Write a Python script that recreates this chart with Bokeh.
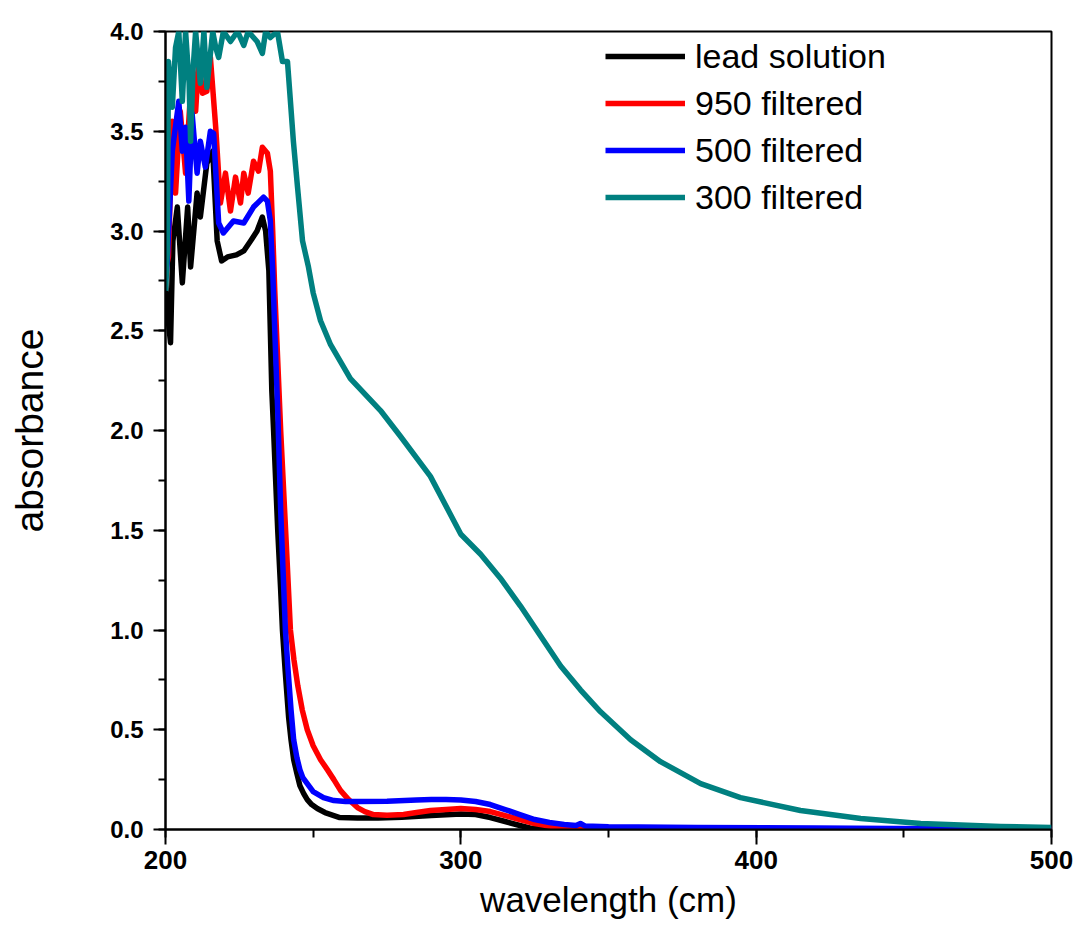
from bokeh.plotting import figure
from bokeh.models import Range1d, SingleIntervalTicker, Legend, LegendItem, NumeralTickFormatter
from bokeh.embed import file_html
from bokeh.resources import INLINE

# ---- data ----
lead_x = [200, 200.6, 201.7, 202.5, 204, 205.7, 207.5, 208.5, 210.7, 211.8, 214, 216, 217.5,
          219, 221, 224, 226.5, 228.8, 231, 232.8, 233.9, 235, 235.5, 236, 236.6, 237.3, 238,
          239, 239.6, 240.5, 241.7, 242.5, 243.4, 244.5, 245.5, 246.8, 248, 249.5, 251.4,
          254, 259, 265, 272, 280, 290, 300, 305, 310, 315, 320, 324, 330, 350, 400, 450, 500]
lead_y = [2.75, 2.6, 2.44, 2.95, 3.12, 2.74, 3.12, 2.82, 3.19, 3.07, 3.34, 3.40, 2.95,
          2.85, 2.87, 2.88, 2.9, 2.95, 3.0, 3.07, 3.0, 2.8, 2.5, 2.2, 2.0, 1.75, 1.5,
          1.2, 1.0, 0.8, 0.56, 0.45, 0.35, 0.28, 0.22, 0.18, 0.15, 0.125, 0.105,
          0.085, 0.06, 0.058, 0.058, 0.062, 0.07, 0.078, 0.075, 0.06, 0.04, 0.02, 0.006, 0.002, 0.0, 0.0, 0.0, 0.0]

f950_x = [200, 201, 202.3, 203.4, 205, 206.8, 209, 210.2, 211.3, 212.5, 214, 215.2, 217,
          218.6, 220.3, 222, 223.7, 225.4, 226.5, 228, 229.8, 231.5, 232.8, 234.5, 235.5,
          236.3, 237, 238, 239, 240, 241, 242.3, 243.5, 244.8, 246.3, 248, 250, 252.5, 254.8,
          257, 259.3, 262, 265, 267.5, 270.4, 275, 280.6, 285, 289.7, 295, 300, 305, 310,
          315, 320, 325, 330, 335, 339, 350, 400, 450, 500]
f950_y = [2.8, 2.87, 3.55, 3.19, 3.6, 3.29, 3.82, 3.6, 3.87, 3.69, 3.70, 3.87, 3.52,
          3.14, 3.29, 3.10, 3.27, 3.14, 3.29, 3.19, 3.35, 3.30, 3.42, 3.39, 3.3,
          3.0, 2.7, 2.35, 2.0, 1.7, 1.4, 1.0, 0.85, 0.72, 0.6, 0.5, 0.42, 0.35, 0.3,
          0.25, 0.195, 0.15, 0.11, 0.09, 0.075, 0.072, 0.075, 0.085, 0.095, 0.10, 0.105, 0.10, 0.09,
          0.07, 0.05, 0.03, 0.017, 0.008, 0.004, 0.002, 0.0, 0.0, 0.0]

f500_x = [200, 200.6, 202.3, 204.5, 205.7, 206.8, 207.9, 209, 210.7, 211.8, 213.5, 215.2, 216.3,
          218, 219.6, 223, 226.5, 229.8, 233.2, 234.5, 235.5, 236.3, 237, 238, 239, 240.6,
          241.5, 242.5, 243.4, 244.5, 245.5, 246.5, 248, 250, 253.5, 257, 261, 265, 275,
          285, 290, 295, 300, 305, 310, 315, 320, 325, 330, 335, 339, 340.5, 342, 350, 380, 420, 460, 500]
f500_y = [2.75, 2.85, 3.40, 3.65, 3.4, 3.52, 3.15, 3.59, 3.29, 3.45, 3.32, 3.5, 3.49,
          3.04, 2.99, 3.05, 3.04, 3.12, 3.17, 3.15, 3.05, 2.8, 2.5, 2.1, 1.6, 1.0,
          0.8, 0.6, 0.45, 0.36, 0.3, 0.26, 0.23, 0.19, 0.16, 0.145, 0.14, 0.14, 0.142,
          0.148, 0.15, 0.15, 0.148, 0.14, 0.125, 0.10, 0.075, 0.05, 0.035, 0.025, 0.02, 0.03, 0.018, 0.014, 0.01, 0.007, 0.004, 0.002]

f300_x = [200, 200.6, 201, 202.3, 203.4, 204.5, 205.7, 206.8, 208, 208.5, 209.3, 210.2, 211.8,
          213, 214, 216, 217, 218, 219.6, 222, 224.4, 226.5, 228, 231, 232.8, 233.9, 235.5,
          237.9, 239.6, 241.3, 242.3, 243.3, 244.7, 246.4, 248.4, 250, 252.5, 255.9, 262.6,
          272.8, 279.6, 289.7, 300, 306.7, 313.4, 320.2, 327, 333.8, 340.5, 347.3, 357.5,
          367.6, 381.2, 394.7, 415, 435.4, 455.7, 482.8, 500]
f300_y = [2.7, 2.89, 3.85, 3.62, 3.92, 4.0, 3.65, 4.0, 3.74, 3.45, 3.8, 4.0, 3.74,
          4.0, 3.72, 4.0, 3.92, 3.87, 4.0, 3.95, 4.0, 3.93, 4.0, 3.95, 3.89, 4.0, 3.97,
          4.0, 3.85, 3.85, 3.65, 3.45, 3.22, 2.95, 2.82, 2.69, 2.55, 2.43, 2.26,
          2.10, 1.97, 1.77, 1.48, 1.38, 1.26, 1.12, 0.97, 0.82, 0.70, 0.59, 0.45,
          0.34, 0.23, 0.16, 0.095, 0.055, 0.03, 0.015, 0.01]

series_names = ["lead solution", "950 filtered", "500 filtered", "300 filtered"]
series_colors = ["#000000", "#ff0000", "#0000ff", "#008080"]

xs = [lead_x, f950_x, f500_x, f300_x]
ys = [lead_y, f950_y, f500_y, f300_y]

p = figure(width=1077, height=932, output_backend="svg", toolbar_location=None,
           x_range=Range1d(200, 500), y_range=Range1d(0, 4.0),
           min_border_left=165, min_border_right=26, min_border_top=31, min_border_bottom=103)
p.background_fill_color = "white"
p.border_fill_color = "white"
p.grid.visible = False
p.outline_line_color = "black"
p.outline_line_width = 2

items = []
for x, y, name, c in zip(xs, ys, series_names, series_colors):
    r = p.line(x, y, line_color=c, line_width=5.5, line_join="round")
    items.append(LegendItem(label=name, renderers=[r]))

p.xaxis.ticker = SingleIntervalTicker(interval=100, num_minor_ticks=2)
p.yaxis.ticker = SingleIntervalTicker(interval=0.5, num_minor_ticks=2)
p.yaxis.formatter = NumeralTickFormatter(format="0.0")

for ax in (p.xaxis[0], p.yaxis[0]):
    ax.axis_line_width = 2
    ax.axis_line_color = "black"
    ax.major_tick_line_width = 2
    ax.minor_tick_line_width = 2
    ax.major_tick_in = 0
    ax.minor_tick_in = 0
    ax.major_label_text_font = "Liberation Sans"
    ax.major_label_text_font_style = "bold"
    ax.major_label_text_color = "black"
    ax.axis_label_text_font = "Liberation Sans"
    ax.axis_label_text_font_style = "normal"
    ax.axis_label_text_color = "black"

p.xaxis.major_tick_out = 15
p.xaxis.minor_tick_out = 8
p.yaxis.major_tick_out = 12
p.yaxis.minor_tick_out = 7
p.xaxis.major_label_text_font_size = "26px"
p.yaxis.major_label_text_font_size = "24px"
p.xaxis.major_label_standoff = 6
p.yaxis.major_label_standoff = 10

p.xaxis.axis_label = "wavelength (cm)"
p.xaxis.axis_label_text_font_size = "35px"
p.xaxis.axis_label_standoff = 8

p.yaxis.axis_label = "absorbance"
p.yaxis.axis_label_text_font_size = "39px"
p.yaxis.axis_label_standoff = 56

legend = Legend(items=items, location=(436, 608), orientation="vertical")
legend.background_fill_alpha = 0
legend.border_line_alpha = 0
legend.label_text_font = "Liberation Sans"
legend.label_text_font_size = "34px"
legend.label_text_color = "black"
legend.glyph_width = 80
legend.glyph_height = 40
legend.label_height = 40
legend.label_standoff = 10
legend.spacing = 7
legend.padding = 4
legend.margin = 0
p.add_layout(legend)

open("out.html", "w").write(file_html(p, INLINE))
